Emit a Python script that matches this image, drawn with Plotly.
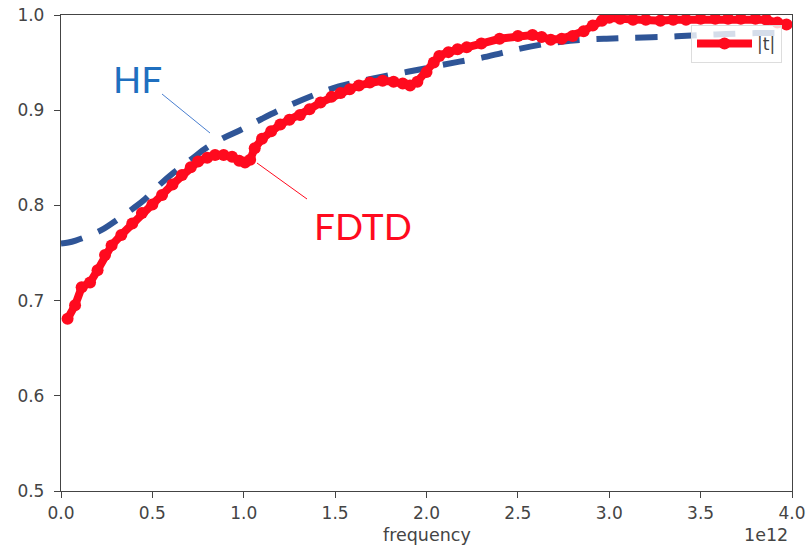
import plotly.graph_objects as go

# ---- data (frequency in units of 1e12 Hz) ----
fdtd_freq = [0.036, 0.077, 0.113, 0.159, 0.200, 0.241, 0.277, 0.330, 0.390, 0.443,
             0.500, 0.553, 0.610, 0.662, 0.710, 0.750, 0.800, 0.843, 0.890, 0.936,
             0.975, 1.007, 1.035, 1.060, 1.100, 1.150, 1.200, 1.250, 1.308, 1.360,
             1.420, 1.480, 1.530, 1.580, 1.630, 1.690, 1.760, 1.820, 1.870, 1.910,
             1.950, 2.000, 2.040, 2.070, 2.120, 2.170, 2.220, 2.300, 2.400, 2.500,
             2.580, 2.630, 2.680, 2.740, 2.800, 2.860, 2.910, 2.960, 3.000, 3.060,
             3.130, 3.200, 3.280, 3.350, 3.420, 3.500, 3.580, 3.650, 3.720, 3.800,
             3.860, 3.920, 3.970]
fdtd_t = [0.681, 0.695, 0.714, 0.719, 0.732, 0.748, 0.758, 0.769, 0.781, 0.792,
          0.801, 0.811, 0.822, 0.832, 0.840, 0.846, 0.850, 0.853, 0.853, 0.851,
          0.847, 0.845, 0.848, 0.860, 0.870, 0.878, 0.885, 0.890, 0.895, 0.901,
          0.908, 0.914, 0.918, 0.922, 0.926, 0.929, 0.931, 0.930, 0.928, 0.926,
          0.930, 0.940, 0.950, 0.957, 0.961, 0.964, 0.966, 0.970, 0.975, 0.978,
          0.979, 0.977, 0.974, 0.975, 0.978, 0.983, 0.989, 0.994, 0.997, 0.996,
          0.995, 0.995, 0.994, 0.995, 0.995, 0.996, 0.996, 0.996, 0.996, 0.996,
          0.995, 0.992, 0.990]

hf_freq = [0.00, 0.04, 0.08, 0.15, 0.22, 0.27, 0.36, 0.45, 0.53, 0.62,
           0.71, 0.80, 0.89, 0.98, 1.10, 1.25, 1.40, 1.52, 1.63, 1.75,
           1.86, 1.97, 2.07, 2.18, 2.30, 2.41, 2.52, 2.63, 2.74, 2.86,
           2.97, 3.10, 3.30, 3.50, 3.64, 3.80, 3.95]
hf_t = [0.760, 0.761, 0.763, 0.768, 0.774, 0.780, 0.792, 0.805, 0.820, 0.835,
        0.848, 0.861, 0.871, 0.879, 0.891, 0.905, 0.917, 0.925, 0.930, 0.935,
        0.939, 0.943, 0.947, 0.951, 0.955, 0.960, 0.965, 0.969, 0.972, 0.974,
        0.975, 0.976, 0.977, 0.979, 0.980, 0.981, 0.981]

x_tickvals = [0.0, 0.5, 1.0, 1.5, 2.0, 2.5, 3.0, 3.5, 4.0]
x_ticktext = ["0.0", "0.5", "1.0", "1.5", "2.0", "2.5", "3.0", "3.5", "4.0"]
y_tickvals = [0.5, 0.6, 0.7, 0.8, 0.9, 1.0]
y_ticktext = ["0.5", "0.6", "0.7", "0.8", "0.9", "1.0"]
SCALE = 1e12

RED = "#FF0A1E"
BLUE = "#2F5597"
TXT = "#444444"

# layout geometry (pixels)
W, H = 809, 548
L, R, T, B = 61, 17, 15, 57
PW, PH = W - L - R, H - T - B


def px(x):
    return (x - L) / PW


def py(y):
    return (H - B - y) / PH


fig = go.Figure()
fig.add_trace(go.Scatter(
    x=[f * SCALE for f in hf_freq], y=hf_t, mode="lines",
    line=dict(color=BLUE, width=6, dash="22px,17px", shape="spline"),
    showlegend=False, hoverinfo="skip"))
fig.add_trace(go.Scatter(
    x=[f * SCALE for f in fdtd_freq], y=fdtd_t, mode="lines+markers",
    name="|t|",
    line=dict(color=RED, width=8),
    marker=dict(color=RED, size=12)))

axis_common = dict(
    showline=True, linecolor="#444", linewidth=1.3, mirror=True,
    ticks="outside", ticklen=6, tickwidth=1.2, tickcolor="#444",
    showgrid=False, zeroline=False, automargin=False,
    tickfont=dict(family="DejaVu Sans", size=17, color=TXT),
)

fig.update_layout(
    template="none",
    width=W, height=H,
    margin=dict(l=L, r=R, t=T, b=B, autoexpand=False),
    paper_bgcolor="white", plot_bgcolor="white",
    xaxis=dict(range=[0, 4 * SCALE], tickvals=[v * SCALE for v in x_tickvals],
               ticktext=x_ticktext, **axis_common),
    yaxis=dict(range=[0.5, 1.0], tickvals=y_tickvals, ticktext=y_ticktext,
               ticklabelstandoff=6, **axis_common),
    legend=dict(x=px(782), y=py(25), xanchor="right", yanchor="top",
                itemwidth=55,
                bgcolor="rgba(255,255,255,0.8)", bordercolor="#ddd", borderwidth=1,
                font=dict(family="DejaVu Sans", size=17, color=TXT)),
    annotations=[
        dict(text="frequency", xref="paper", yref="paper", x=px(426.5), y=py(535),
             xanchor="center", yanchor="middle", showarrow=False,
             font=dict(family="DejaVu Sans", size=17.5, color=TXT)),
        dict(text="1e12", xref="paper", yref="paper", x=px(790), y=py(535),
             xanchor="right", yanchor="middle", showarrow=False,
             font=dict(family="DejaVu Sans", size=17.5, color=TXT)),
        dict(text="HF", xref="paper", yref="paper", x=px(137), y=py(79),
             xanchor="center", yanchor="middle", showarrow=False,
             font=dict(family="Lato", size=37, color="#1F6FBF")),
        dict(text="FDTD", xref="paper", yref="paper", x=px(363), y=py(225),
             xanchor="center", yanchor="middle", showarrow=False,
             font=dict(family="Lato", size=37, color="#FF0A1E")),
    ],
    shapes=[
        dict(type="line", xref="paper", yref="paper",
             x0=px(162), y0=py(94), x1=px(210), y1=py(133),
             line=dict(color="#4A7FD0", width=1)),
        dict(type="line", xref="paper", yref="paper",
             x0=px(257), y0=py(163), x1=px(307), y1=py(199),
             line=dict(color="#FF0A1E", width=1)),
    ],
)

fig.write_html("out.html", config={"displayModeBar": False},
               post_script="document.body.style.margin='0px';"
                           "document.body.style.overflow='hidden';")
